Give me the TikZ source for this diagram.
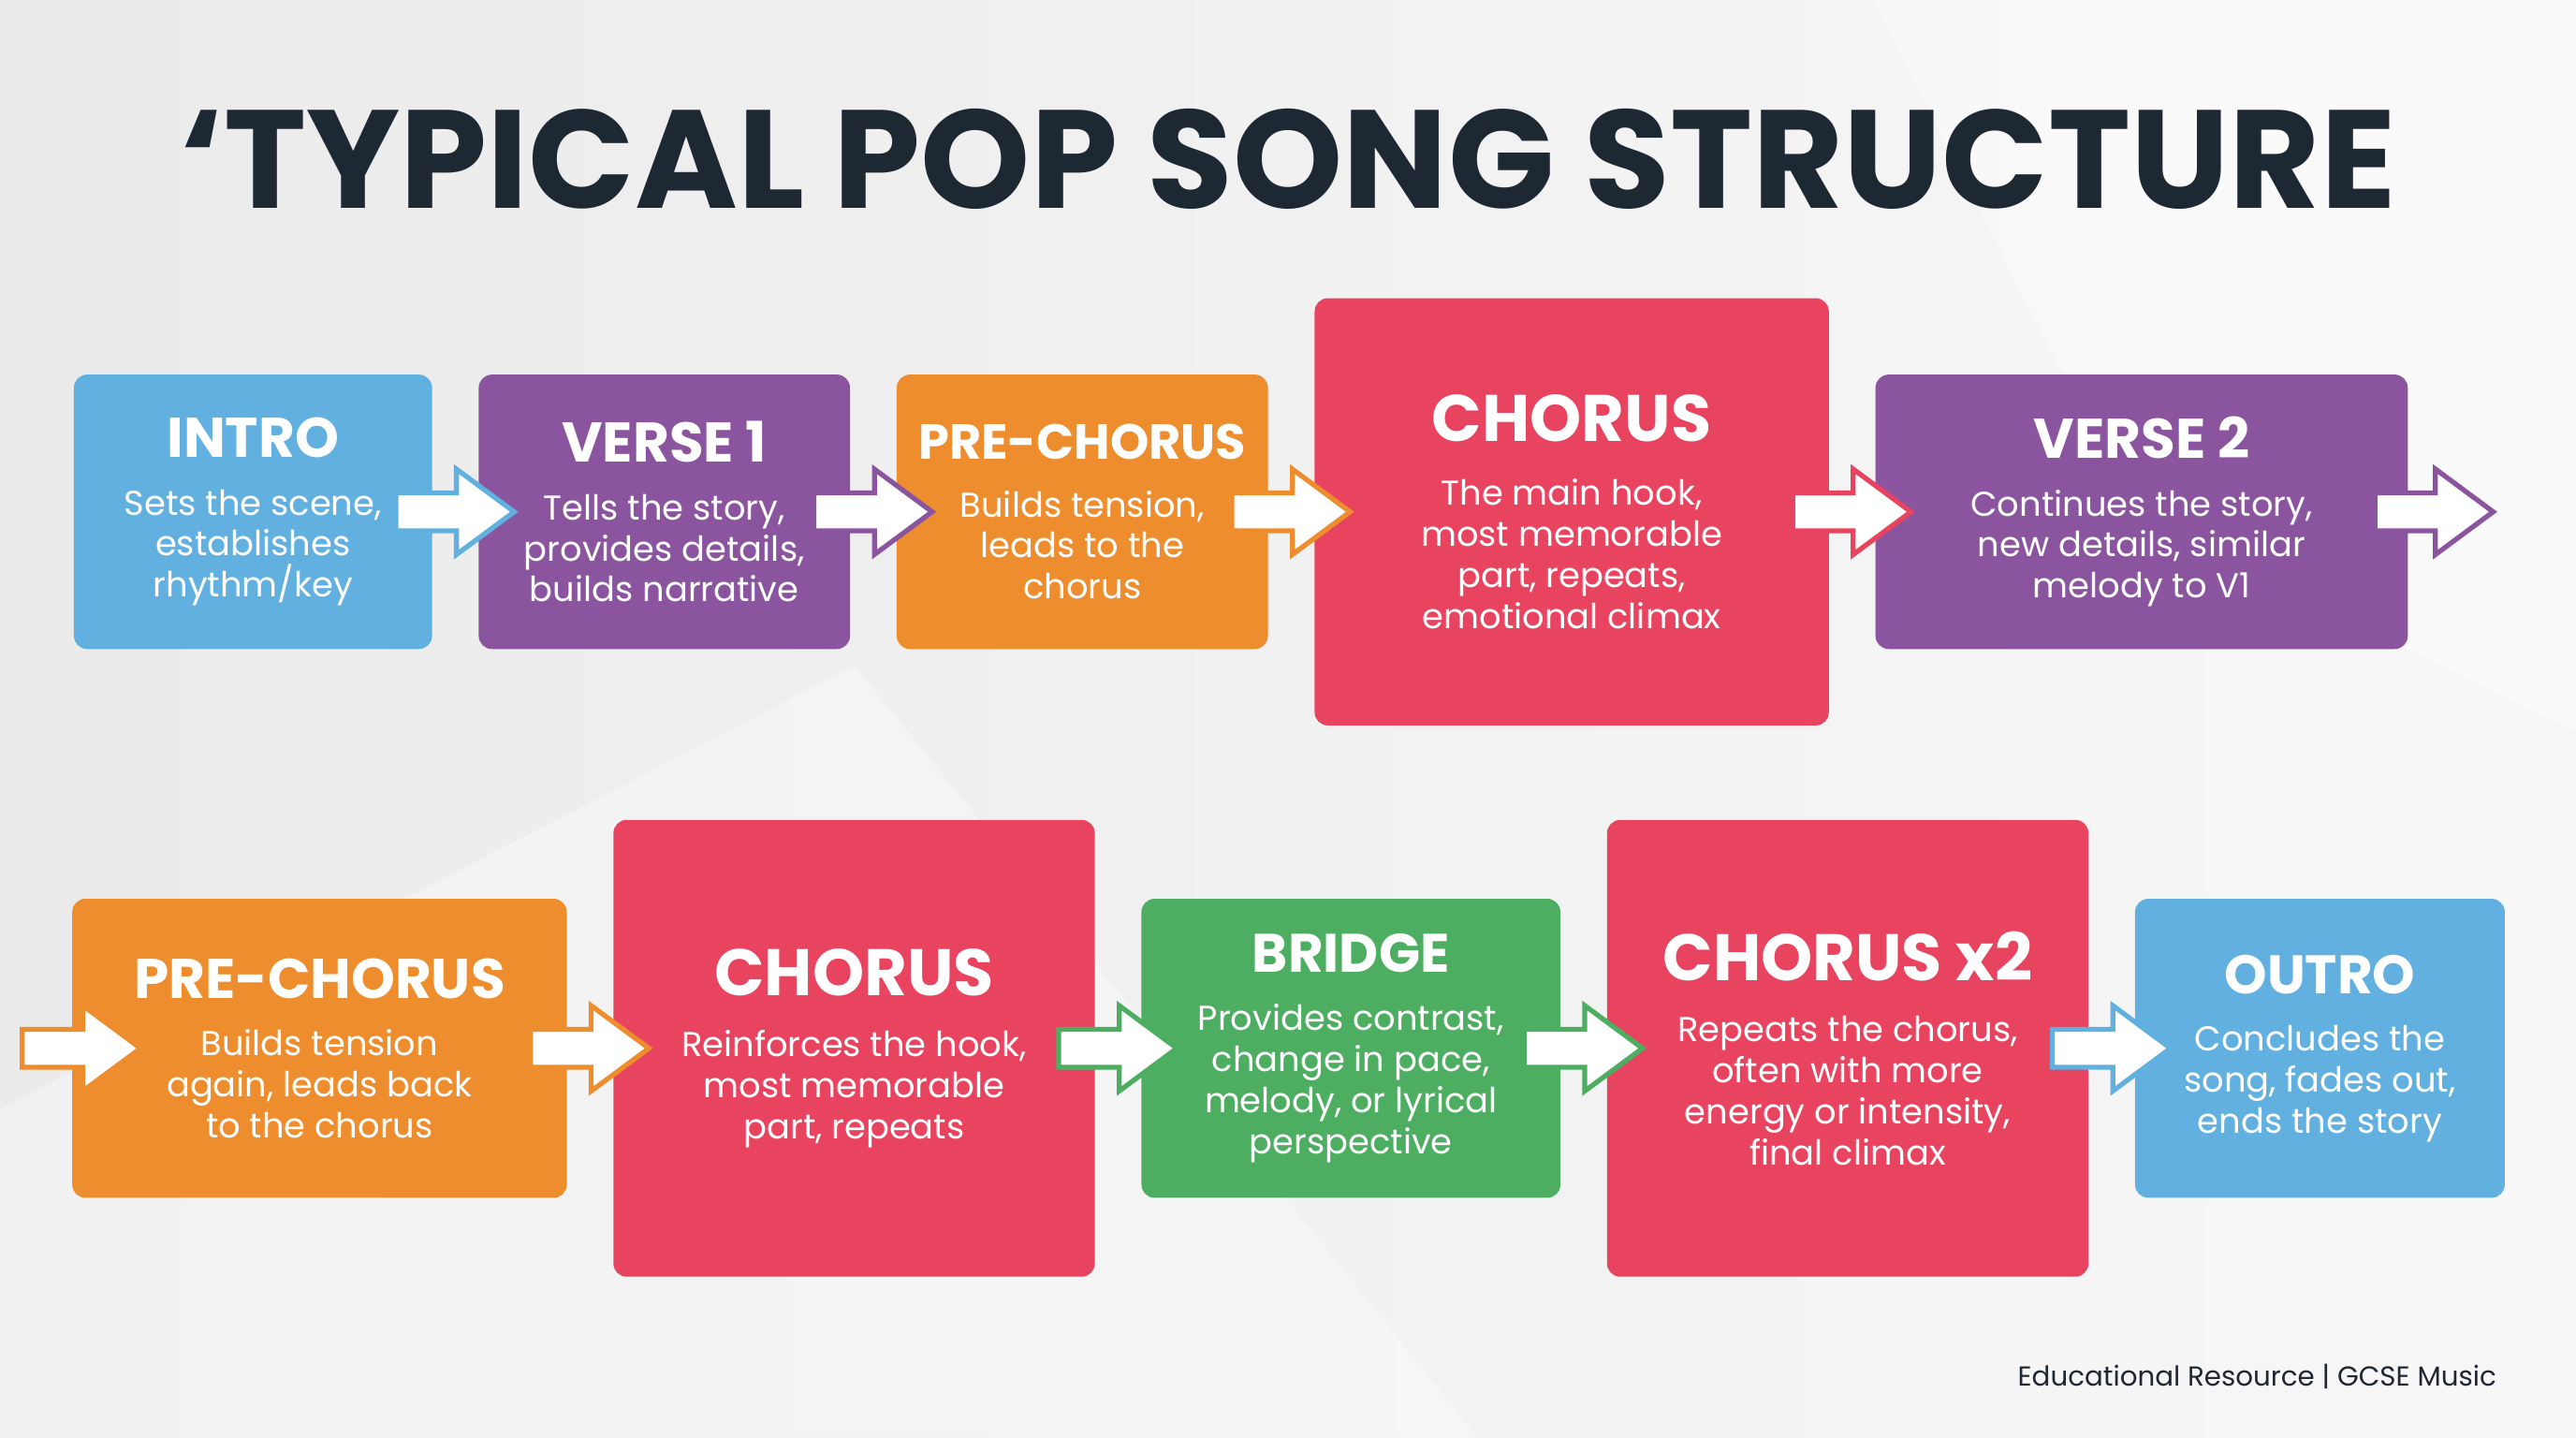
\documentclass[tikz,border=0pt]{standalone}
\usepackage{fontspec}
\setmainfont{Poppins}
\usetikzlibrary{shapes,positioning,calc}
\definecolor{cblue}{HTML}{62B0E0}
\definecolor{cpurple}{HTML}{8A549E}
\definecolor{corange}{HTML}{EE8D2D}
\definecolor{cred}{HTML}{E8445F}
\definecolor{cgreen}{HTML}{4DAE62}
\definecolor{cdark}{HTML}{1E2833}
\newcommand{\hd}[2]{{\bfseries\fontsize{#1}{#1}\selectfont #2}}

\begin{document}
\begin{tikzpicture}[x=1pt,y=1pt,
  box/.style={fill=#1,rounded corners=8pt,text=white,align=center,inner sep=0pt,
    font=\fontsize{21}{25}\selectfont},
  arr/.style={single arrow,draw=#1,fill=white,line width=3pt,minimum height=72pt,
    single arrow head extend=14.5pt,single arrow tip angle=73,
    inner xsep=0pt,inner ysep=10pt,xshift=-8pt}]
\shade[left color=black!8,right color=black!3] (0,0) rectangle (1568,875);
\fill[white,opacity=.45] (1140,875) -- (1568,875) -- (1568,430) -- (1300,560) -- cycle;
\fill[white,opacity=.35] (0,0) -- (0,200) -- (520,470) -- (900,0) -- cycle;
%\fill[white,opacity=.3] (1250,0) -- (1568,0) -- (1568,300) -- cycle;
\useasboundingbox (0,0) rectangle (1568,875);

\node[font=\bfseries\fontsize{85}{85}\selectfont,text=cdark] (title) at (784,778)
  {‘TYPICAL POP SONG STRUCTURE};

% first row
\node[box=cblue,minimum width=218pt,minimum height=167pt] (intro) at (154,563.5)
  {\hd{34}{INTRO}\\[10pt]Sets the scene,\\establishes\\rhythm/key};
\node[box=cpurple,minimum width=226pt,minimum height=167pt,right=28pt of intro] (verse1)
  {\hd{34}{VERSE 1}\\[10pt]Tells the story,\\provides details,\\builds narrative};
\node[box=corange,minimum width=226pt,minimum height=167pt,right=28pt of verse1] (pre1)
  {\hd{30}{PRE-CHORUS}\\[10pt]Builds tension,\\leads to the\\chorus};
\node[box=cred,minimum width=313pt,minimum height=260pt,right=28pt of pre1] (chorus1)
  {\hd{40}{CHORUS}\\[14pt]The main hook,\\most memorable\\part, repeats,\\emotional climax};
\node[box=cpurple,minimum width=324pt,minimum height=167pt,right=28pt of chorus1] (verse2)
  {\hd{34}{VERSE 2}\\[10pt]Continues the story,\\new details, similar\\melody to V1};

% second row
\node[box=corange,minimum width=301pt,minimum height=182pt] (pre2) at (194.5,237)
  {\hd{34}{PRE-CHORUS}\\[10pt]Builds tension\\again, leads back\\to the chorus};
\node[box=cred,minimum width=293pt,minimum height=278pt,right=28pt of pre2] (chorus2)
  {\hd{40}{CHORUS}\\[12pt]Reinforces the hook,\\most memorable\\part, repeats};
\node[box=cgreen,minimum width=255pt,minimum height=182pt,right=28pt of chorus2] (bridge)
  {\hd{33}{BRIDGE}\\[10pt]Provides contrast,\\change in pace,\\melody, or lyrical\\perspective};
\node[box=cred,minimum width=293pt,minimum height=278pt,right=28pt of bridge] (chorus3)
  {\hd{40}{CHORUS x2}\\[12pt]Repeats the chorus,\\often with more\\energy or intensity,\\final climax};
\node[box=cblue,minimum width=225pt,minimum height=182pt,right=28pt of chorus3] (outro)
  {\hd{33}{OUTRO}\\[10pt]Concludes the\\song, fades out,\\ends the story};

% arrows
\node[arr=cblue] (a1) at ($(intro.east)!.5!(verse1.west)$) {};
\node[arr=cpurple] (a2) at ($(verse1.east)!.5!(pre1.west)$) {};
\node[arr=corange] (a3) at ($(pre1.east)!.5!(chorus1.west)$) {};
\node[arr=cred] (a4) at ($(chorus1.east)!.5!(verse2.west)$) {};
\node[arr=cpurple] (a5) at ($(verse2.east)+(16,0)$) {};
\node[arr=corange] (a6) at ($(pre2.west)+(6,0)$) {};
\node[arr=corange] (a7) at ($(pre2.east)!.5!(chorus2.west)$) {};
\node[arr=cgreen] (a8) at ($(chorus2.east)!.5!(bridge.west)$) {};
\node[arr=cgreen] (a9) at ($(bridge.east)!.5!(chorus3.west)$) {};
\node[arr=cblue] (a10) at ($(chorus3.east)!.5!(outro.west)$) {};

\node[anchor=east,font=\fontsize{16.7}{17}\selectfont,text=cdark] (foot) at (1523,37)
  {Educational Resource | GCSE Music};
\end{tikzpicture}
\end{document}
